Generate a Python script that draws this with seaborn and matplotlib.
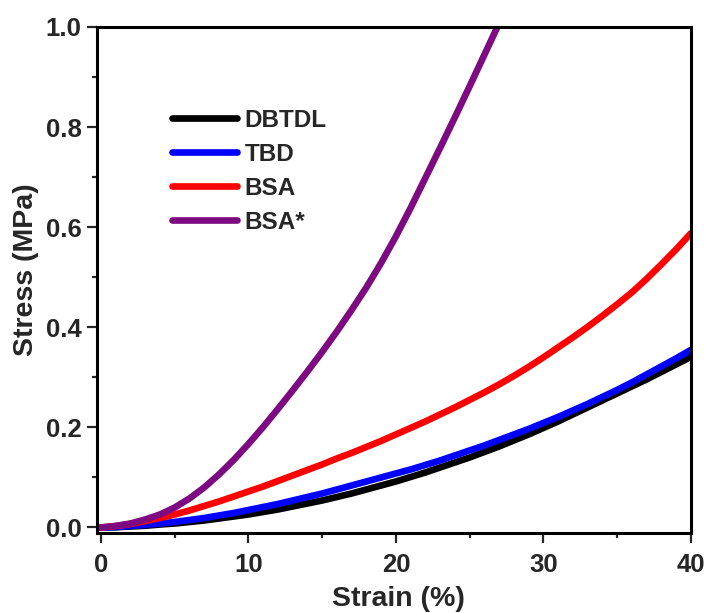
import numpy as np
import pandas as pd
import matplotlib
matplotlib.use("Agg")
import matplotlib.pyplot as plt
import seaborn as sns

# Tensile curves: stress (MPa) against strain (%) for each catalyst
series_names = ["DBTDL", "TBD", "BSA", "BSA*"]
series_colors = ["#000000", "#0000ff", "#ff0000", "#7d0a80"]

strain_main = list(range(0, 41))

stress_dbtdl = [0.000, 0.0005, 0.002, 0.0035, 0.006, 0.008, 0.011, 0.014, 0.018, 0.022,
                0.026, 0.031, 0.036, 0.042, 0.048, 0.054, 0.061, 0.068, 0.076, 0.084,
                0.092, 0.101, 0.110, 0.120, 0.130, 0.140, 0.151, 0.162, 0.174, 0.186,
                0.199, 0.212, 0.226, 0.240, 0.254, 0.268, 0.282, 0.296, 0.311, 0.326,
                0.341]
stress_tbd = [0.000, 0.001, 0.003, 0.005, 0.008, 0.011, 0.015, 0.019, 0.024, 0.029,
              0.035, 0.041, 0.047, 0.054, 0.061, 0.068, 0.076, 0.084, 0.092, 0.100,
              0.108, 0.116, 0.125, 0.134, 0.144, 0.154, 0.164, 0.175, 0.186, 0.197,
              0.209, 0.221, 0.234, 0.247, 0.261, 0.275, 0.290, 0.306, 0.322, 0.338,
              0.355]
stress_bsa = [0.000, 0.003, 0.007, 0.013, 0.019, 0.026, 0.034, 0.043, 0.052, 0.062,
              0.072, 0.082, 0.093, 0.104, 0.115, 0.126, 0.138, 0.149, 0.161, 0.173,
              0.186, 0.199, 0.212, 0.226, 0.240, 0.255, 0.270, 0.286, 0.303, 0.321,
              0.340, 0.360, 0.380, 0.401, 0.423, 0.446, 0.470, 0.497, 0.526, 0.556,
              0.588]

strain_bsa_star = list(range(0, 29))
stress_bsa_star = [0.000, 0.003, 0.008, 0.016, 0.026, 0.040, 0.058, 0.080, 0.106, 0.135,
                   0.167, 0.201, 0.237, 0.274, 0.312, 0.351, 0.392, 0.435, 0.480, 0.529,
                   0.582, 0.639, 0.699, 0.759, 0.820, 0.882, 0.945, 1.008, 1.071]

x_ticks = [0, 10, 20, 30, 40]
y_ticks = [0.0, 0.2, 0.4, 0.6, 0.8, 1.0]

frames = [
    pd.DataFrame({"Strain": strain_main, "Stress": stress_dbtdl, "Sample": "DBTDL"}),
    pd.DataFrame({"Strain": strain_main, "Stress": stress_tbd, "Sample": "TBD"}),
    pd.DataFrame({"Strain": strain_main, "Stress": stress_bsa, "Sample": "BSA"}),
    pd.DataFrame({"Strain": strain_bsa_star, "Stress": stress_bsa_star, "Sample": "BSA*"}),
]
data = pd.concat(frames, ignore_index=True)

sns.set_style("ticks")
plt.rcParams["font.family"] = ["Liberation Sans", "DejaVu Sans"]
plt.rcParams["font.weight"] = "bold"
plt.rcParams["axes.labelweight"] = "bold"

fig = plt.figure(figsize=(7.09, 6.13), dpi=100)
ax = fig.add_axes([97 / 709, 1 - 533 / 613, 594 / 709, 506 / 613])

sns.lineplot(data=data, x="Strain", y="Stress", hue="Sample",
             hue_order=series_names, palette=dict(zip(series_names, series_colors)),
             estimator=None, sort=False, linewidth=4.8, ax=ax,
             solid_capstyle="round", solid_joinstyle="round")

ax.set_xlim(-0.27, 40)
ax.set_ylim(-0.011, 1.0)
ax.set_xticks(x_ticks)
ax.set_xticklabels([f"{t:d}" for t in x_ticks])
ax.set_yticks(y_ticks)
ax.set_yticklabels([f"{t:.1f}" for t in y_ticks])
ax.xaxis.set_minor_locator(matplotlib.ticker.MultipleLocator(5))
ax.yaxis.set_minor_locator(matplotlib.ticker.MultipleLocator(0.1))

ax.tick_params(axis="both", which="major", direction="out", length=7, width=1.6,
               labelsize=18.5, top=False, right=False)
ax.tick_params(axis="x", which="major", pad=7.5)
ax.tick_params(axis="y", which="major", pad=4)
ax.tick_params(axis="both", which="minor", direction="out", length=3.8, width=1.6,
               top=False, right=False)
for lab in ax.get_xticklabels() + ax.get_yticklabels():
    lab.set_fontweight("bold")

for side in ["left", "right", "top", "bottom"]:
    ax.spines[side].set_visible(True)
    ax.spines[side].set_linewidth(2.2)
    ax.spines[side].set_color("black")

ax.set_xlabel("Strain (%)", fontsize=20.5, fontweight="bold")
ax.set_ylabel("Stress (MPa)", fontsize=20.5, fontweight="bold")
ax.xaxis.set_label_coords(0.507, -0.104)
ax.yaxis.set_label_coords(-0.098, 0.52)

ax.legend(handles=ax.get_legend_handles_labels()[0],
          labels=series_names, loc="upper left",
          bbox_to_anchor=(0.126, 0.838), frameon=False, borderpad=0,
          borderaxespad=0, handlelength=2.7, handletextpad=0.3,
          labelspacing=0.45, prop={"size": 17.5, "weight": "bold"})

fig.savefig("out.png", dpi=100, facecolor="white")
